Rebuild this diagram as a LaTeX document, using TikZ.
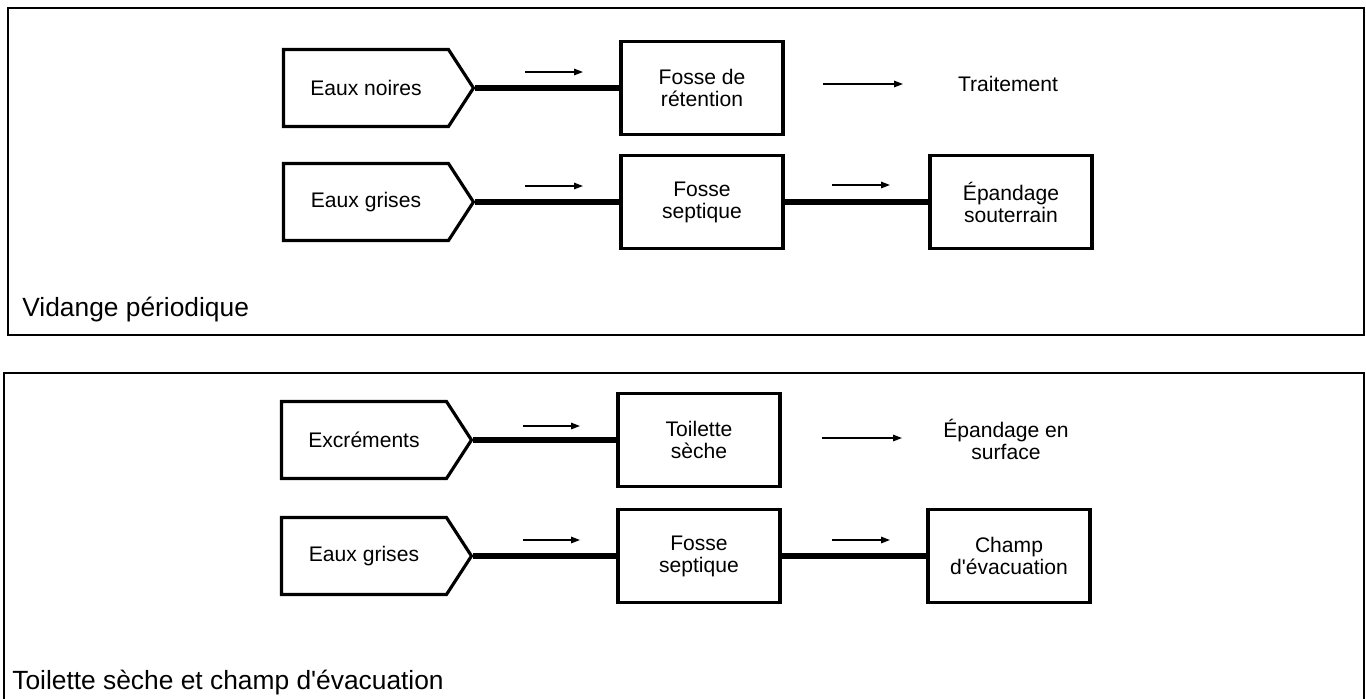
\documentclass[tikz,border=0pt]{standalone}
\usepackage{fontspec}
\setmainfont{Liberation Sans}
\usetikzlibrary{positioning,arrows.meta,shapes.symbols}

\begin{document}
\begin{tikzpicture}[x=0.02cm,y=-0.02cm,font=\fontsize{12}{12.5}\selectfont,
  src/.style={signal,signal to=east,signal pointer angle=114,draw,line width=1.8pt,minimum width=3.8cm,minimum height=1.54cm,inner sep=0pt},
  box/.style={draw,line width=1.8pt,minimum width=3.24cm,minimum height=1.86cm,align=center,inner sep=0pt},
  pipe/.style={line width=3.3pt},
  sar/.style={-{Triangle[length=1.8mm,width=1.3mm]},line width=0.8pt},
  frm/.style={line width=1.1pt},
  paneltext/.style={font=\fontsize{15}{18}\selectfont,anchor=west,inner sep=0pt}]
\useasboundingbox (0,0) rectangle (1366,698);
% upper panel
\draw[frm] (8,8) rectangle (1364,335);
\node[src] (noir) at (366,88) {Eaux noires};
\node[box] (ret) at (702,88) {Fosse de\\rétention};
\node (trt) at (1008,84) {Traitement};
\node[src] (gris1) at (366,202) {Eaux grises};
\node[box] (sep1) at (702,202) {Fosse\\septique};
\node[box] (epa) at (1011,202) {Épandage\\souterrain};
\draw[pipe] (noir.east) -- (ret.west);
\draw[pipe] (gris1.east) -- (sep1.west);
\draw[pipe] (sep1.east) -- (epa.west);
\coordinate (f1a) at (525,72); \coordinate (f1b) at (583,72);
\coordinate (f2a) at (823,84); \coordinate (f2b) at (903,84);
\coordinate (f3a) at (525,186); \coordinate (f3b) at (583,186);
\coordinate (f4a) at (832,185); \coordinate (f4b) at (890,185);
\draw[sar] (f1a) -- (f1b); \draw[sar] (f2a) -- (f2b);
\draw[sar] (f3a) -- (f3b); \draw[sar] (f4a) -- (f4b);
\node[paneltext] (vid) at (22,310) {Vidange périodique};
% lower panel
\draw[frm] (4,373) rectangle (1364,702);
\node[src] (exc) at (364,440) {Excréments};
\node[box] (tsec) at (699,440) {Toilette\\sèche};
\node[align=center] (surf) at (1006,439) {Épandage en\\surface};
\node[src] (gris2) at (364,556) {Eaux grises};
\node[box] (sep2) at (699,556) {Fosse\\septique};
\node[box] (chp) at (1009,556) {Champ\\d\textquotesingle évacuation};
\draw[pipe] (exc.east) -- (tsec.west);
\draw[pipe] (gris2.east) -- (sep2.west);
\draw[pipe] (sep2.east) -- (chp.west);
\coordinate (g1a) at (523,426); \coordinate (g1b) at (580,426);
\coordinate (g2a) at (822,438); \coordinate (g2b) at (902,438);
\coordinate (g3a) at (523,540); \coordinate (g3b) at (580,540);
\coordinate (g4a) at (832,540); \coordinate (g4b) at (890,540);
\draw[sar] (g1a) -- (g1b); \draw[sar] (g2a) -- (g2b);
\draw[sar] (g3a) -- (g3b); \draw[sar] (g4a) -- (g4b);
\node[paneltext] (tsc) at (12,683) {Toilette sèche et champ d\textquotesingle évacuation};
\end{tikzpicture}
\end{document}
